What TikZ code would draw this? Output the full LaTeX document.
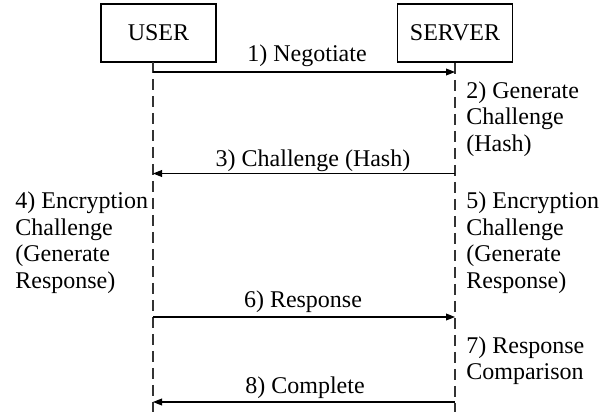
\documentclass[tikz,border=0pt]{standalone}
\usepackage{fontspec}
\setmainfont{Liberation Serif}
\usetikzlibrary{arrows.meta, positioning}

\begin{document}
\begin{tikzpicture}[
            x=0.5pt, y=-0.5pt,                      % one unit per pixel of the sketch
            >={Triangle[length=4.5pt,width=3.4pt]}, % arrow tip style
            every node/.style={font=\fontsize{12}{13.3}\selectfont, inner sep=0pt},
            party/.style={draw, line width=0.9pt, minimum width=57.5pt, minimum height=29pt},
            lifeline/.style={dash pattern=on 5.5pt off 3pt, line width=0.65pt, black!80},
            msg/.style={->, line width=0.6pt},
            note/.style={align=left, anchor=base west}, % base = last line
            msglabel/.style={anchor=base}
          ]
          \useasboundingbox (0,0) rectangle (607,416);

          % the two parties
          \node (user) [party] at (158.5,33) {USER};
          \node (server) [party] at (455,33) {SERVER};

          % lifelines
          \coordinate (uTop) at (153,62);
          \coordinate (uBot) at (153,412);
          \coordinate (sTop) at (server.south);
          \coordinate (sBot) at (455,412);
          \draw [lifeline] (uTop) -- (uBot);
          \draw [lifeline] (sTop) -- (sBot);

          % messages
          \coordinate (u1) at (153,72);    \coordinate (s1) at (455,72);
          \coordinate (u3) at (153,173.5); \coordinate (s3) at (455,173.5);
          \coordinate (u6) at (153,317);   \coordinate (s6) at (455,317);
          \coordinate (u8) at (153,402);   \coordinate (s8) at (455,402);
          \draw [msg] (u1) -- (s1);
          \draw [msg] (s3) -- (u3);
          \draw [msg] (u6) -- (s6);
          \draw [msg] (s8) -- (u8);

          \node (negotiate) [msglabel] at (307,62) {1) Negotiate};
          \node (challenge) [msglabel] at (313,167) {3) Challenge (Hash)};
          \node (response) [msglabel] at (303,308) {6) Response};
          \node (complete) [msglabel] at (305,394) {8) Complete};

          % steps done by each side
          \node (generate) [note] at (466,151.5) {2) Generate\\Challenge\\(Hash)};
          \node (userenc) [note] at (15,288.3) {4) Encryption\\Challenge\\(Generate\\Response)};
          \node (serverenc) [note] at (466,288.3) {5) Encryption\\Challenge\\(Generate\\Response)};
          \node (compare) [note] at (466,380) {7) Response\\Comparison};
        \end{tikzpicture}
\end{document}
